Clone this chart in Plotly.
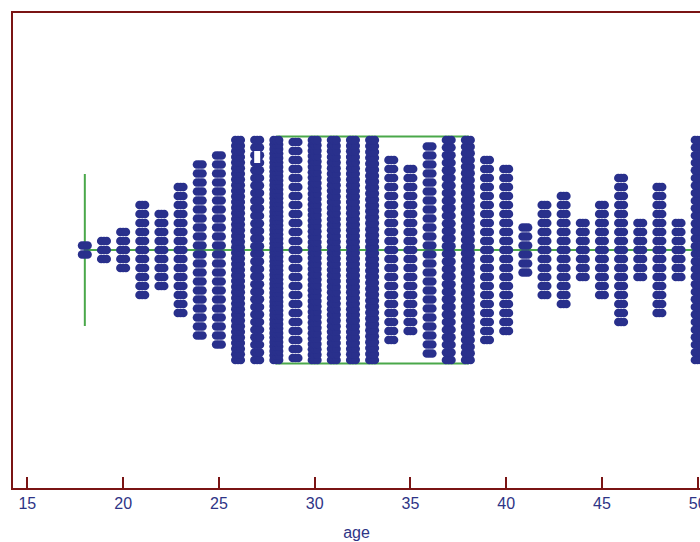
import plotly.graph_objects as go

# ---- data ----
ages = [18, 19, 20, 21, 22, 23, 24, 25, 26, 27, 28, 29, 30, 31, 32, 33, 34,
        35, 36, 37, 38, 39, 40, 41, 42, 43, 44, 45, 46, 47, 48, 49, 50]
counts = [2, 3, 5, 11, 9, 15, 20, 22, 40, 30, 50, 25, 42, 40, 40, 38, 21,
          19, 24, 30, 34, 21, 19, 6, 11, 13, 7, 11, 17, 7, 15, 7, 30]
box_min = 18
box_q1 = 28
box_median = 33
box_q3 = 38
box_max = 60
tick_vals = [15, 20, 25, 30, 35, 40, 45, 50]

# ---- styling / layout constants ----
NAVY = "#29308c"
GREEN = "#4aa84a"
FRAME = "#7a1414"
LABEL = "#2e3486"
W, H = 700, 542
ML, MR, MT, MB = 13, 0, 13, 54
X0, X1 = 14.25, 50.12
px_per_unit = (W - ML - MR) / (X1 - X0)
Y0, Y1 = -238, 237           # y measured in pixels from the centre line
STEP = 9.0                   # vertical dot spacing
HALF_SPAN = 110.0            # max half height of a column
BOX_HALF = 113.5
CAP_HALF = 76
DOT = 8.5
off = 2.8 / px_per_unit      # horizontal offset to make pill-shaped dots

xs, ys = [], []
for a, n in zip(ages, counts):
    step = STEP if n <= 1 else min(STEP, 2 * HALF_SPAN / (n - 1))
    for i in range(n):
        y = (i - (n - 1) / 2) * step
        for d in (-off, 0, off):
            xs.append(a + d)
            ys.append(y)

fig = go.Figure()

# box plot (drawn beneath the dots)
fig.add_trace(go.Scatter(
    x=[box_min, box_max], y=[0, 0], mode="lines",
    line=dict(color=GREEN, width=2), hoverinfo="skip", showlegend=False))
fig.add_trace(go.Scatter(
    x=[box_min, box_min], y=[-CAP_HALF, CAP_HALF], mode="lines",
    line=dict(color=GREEN, width=2), hoverinfo="skip", showlegend=False))
fig.add_trace(go.Scatter(
    x=[box_q1, box_q3, box_q3, box_q1, box_q1],
    y=[BOX_HALF, BOX_HALF, -BOX_HALF, -BOX_HALF, BOX_HALF], mode="lines",
    line=dict(color=GREEN, width=2), hoverinfo="skip", showlegend=False))
fig.add_trace(go.Scatter(
    x=[box_median, box_median], y=[-BOX_HALF, BOX_HALF], mode="lines",
    line=dict(color=GREEN, width=2), hoverinfo="skip", showlegend=False))

# dots
fig.add_trace(go.Scatter(
    x=xs, y=ys, mode="markers",
    marker=dict(size=DOT, color=NAVY, line=dict(width=0)),
    hoverinfo="skip", showlegend=False))

# small white artifact on the age-27 column
fig.add_shape(type="rect", xref="x", yref="y",
              x0=27 - 3 / px_per_unit, x1=27 + 3 / px_per_unit,
              y0=87, y1=99, fillcolor="white", line=dict(width=0),
              layer="above")

fig.update_layout(
    width=W, height=H,
    margin=dict(l=ML, r=MR, t=MT, b=MB, autoexpand=False),
    paper_bgcolor="white", plot_bgcolor="white",
    font=dict(family="Liberation Sans, Arial, sans-serif", color=LABEL),
    xaxis=dict(
        range=[X0, X1], tickvals=tick_vals, automargin=False,
        ticks="inside", ticklen=11, tickwidth=2, tickcolor=FRAME,
        showline=True, linecolor=FRAME, linewidth=2, mirror=True,
        showgrid=False, zeroline=False,
        ticklabeloverflow="allow",
        tickfont=dict(size=16, color=LABEL),
        title=dict(text="age", font=dict(size=16, color=LABEL), standoff=16),
    ),
    yaxis=dict(
        range=[Y0, Y1], showticklabels=False, ticks="", automargin=False,
        showline=True, linecolor=FRAME, linewidth=2,
        showgrid=False, zeroline=False,
    ),
)

fig.write_html("out.html")
